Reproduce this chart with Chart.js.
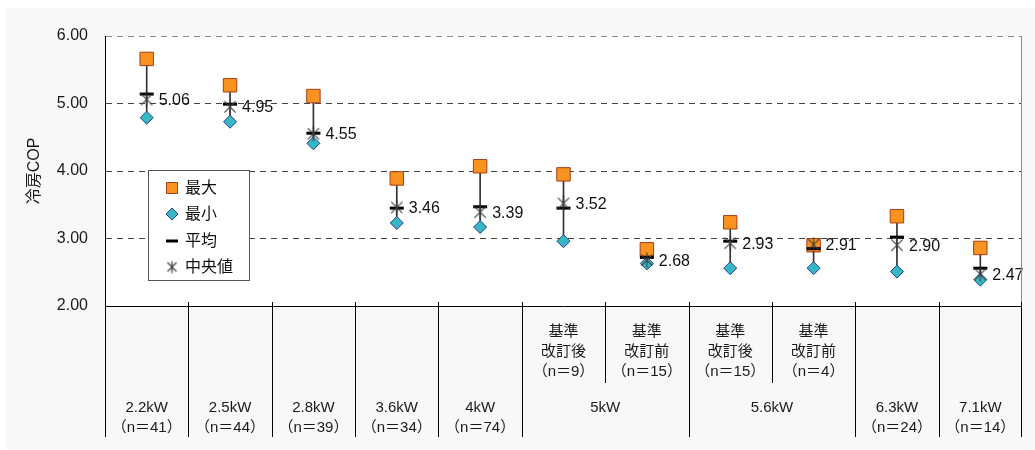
<!DOCTYPE html>
<html>
<head>
<meta charset="utf-8">
<script src="https://cdn.jsdelivr.net/npm/chart.js@4/dist/chart.umd.min.js"></script>
<style>
  html, body { margin: 0; padding: 0; background: #fff; }
  #wrap { width: 1035px; height: 450px; }
</style>
</head>
<body>
<div id="wrap"><canvas id="chart" width="1035" height="450"></canvas></div>
<script>
const FONT = "'Liberation Sans', 'Noto Sans CJK JP', sans-serif";

// data
const categories = ['2.2kW', '2.5kW', '2.8kW', '3.6kW', '4kW', '5kW改訂後', '5kW改訂前', '5.6kW改訂後', '5.6kW改訂前', '6.3kW', '7.1kW'];
const maxValues = [5.66, 5.27, 5.11, 3.89, 4.07, 3.95, 2.84, 3.24, 2.90, 3.33, 2.86];
const minValues = [4.79, 4.73, 4.41, 3.23, 3.17, 2.96, 2.63, 2.56, 2.56, 2.51, 2.39];
const meanValues = [5.14, 4.99, 4.56, 3.45, 3.47, 3.45, 2.72, 2.96, 2.85, 3.02, 2.56];
const medianValues = [5.06, 4.95, 4.55, 3.46, 3.39, 3.52, 2.68, 2.93, 2.91, 2.90, 2.47];

// bottom table labels
const sizeGroups = ['2.2kW', '2.5kW', '2.8kW', '3.6kW', '4kW', '5kW', '5.6kW', '6.3kW', '7.1kW'];
const groupSpans = [1, 1, 1, 1, 1, 2, 2, 1, 1];
const subLabels = ['', '', '', '', '', '基準\n改訂後', '基準\n改訂前', '基準\n改訂後', '基準\n改訂前', '', ''];
const countLabels = ['（n＝41）', '（n＝44）', '（n＝39）', '（n＝34）', '（n＝74）', '（n＝9）', '（n＝15）', '（n＝15）', '（n＝4）', '（n＝24）', '（n＝14）'];
const yTicks = [2, 3, 4, 5, 6];

function makeStar(size, color) {
  const c = document.createElement('canvas');
  c.width = size; c.height = size;
  const g = c.getContext('2d');
  const h = size / 2, r = size / 2 - 0.5, d = r * 0.75;
  g.strokeStyle = color;
  g.lineWidth = 1.2;
  g.beginPath();
  g.moveTo(h - d, h - d); g.lineTo(h + d, h + d);
  g.moveTo(h + d, h - d); g.lineTo(h - d, h + d);
  g.moveTo(h, h - r); g.lineTo(h, h + r);
  g.stroke();
  return c;
}
const starImg = makeStar(16, '#404040');

const backdrop = {
  id: 'backdrop',
  beforeDraw(chart) {
    const {ctx, chartArea: a} = chart;
    ctx.save();
    ctx.fillStyle = '#ffffff';
    ctx.fillRect(0, 0, chart.width, chart.height);
    ctx.fillStyle = '#f8f8f8';
    ctx.fillRect(6, 8, 1029, 441);
    ctx.fillStyle = '#ffffff';
    ctx.fillRect(a.left, a.top, a.right - a.left, a.bottom - a.top);
    ctx.restore();
  }
};

const medianLabels = {
  id: 'medianLabels',
  afterDatasetsDraw(chart) {
    const {ctx} = chart;
    const meta = chart.getDatasetMeta(4);
    ctx.save();
    ctx.font = '16px ' + FONT;
    ctx.fillStyle = '#111';
    ctx.textBaseline = 'middle';
    ctx.textAlign = 'left';
    meta.data.forEach((pt, i) => {
      ctx.fillText(medianValues[i].toFixed(2), pt.x + 12, pt.y + 1);
    });
    ctx.restore();
  }
};

const table = {
  id: 'table',
  afterDraw(chart) {
    const {ctx, chartArea: a} = chart;
    const x = chart.scales.x;
    const half = (x.getPixelForValue(1) - x.getPixelForValue(0)) / 2;
    const edge = i => Math.round(x.getPixelForValue(i) - half) + 0.5;
    ctx.save();
    // right frame
    ctx.strokeStyle = '#8a8a8a';
    ctx.lineWidth = 1;
    ctx.beginPath();
    ctx.moveTo(Math.round(a.right) - 0.5, a.top);
    ctx.lineTo(Math.round(a.right) - 0.5, a.bottom);
    ctx.stroke();
    // axis line
    ctx.strokeStyle = '#000';
    ctx.beginPath();
    ctx.moveTo(a.left, Math.round(a.bottom) + 0.5);
    ctx.lineTo(a.right, Math.round(a.bottom) + 0.5);
    ctx.stroke();

    // group boundaries
    const groupStart = [];
    let k = 0;
    groupSpans.forEach(s => { groupStart.push(k); k += s; });
    const isGroupEdge = i => i === categories.length || groupStart.includes(i);
    ctx.beginPath();
    for (let i = 0; i <= categories.length; i++) {
      const ex = i === categories.length ? Math.round(a.right) - 0.5 : edge(i);
      ctx.moveTo(ex, a.bottom - 4);
      ctx.lineTo(ex, isGroupEdge(i) ? 437 : 383);
    }
    ctx.stroke();

    ctx.fillStyle = '#1a1a1a';
    ctx.textAlign = 'center';
    ctx.textBaseline = 'middle';
    // sub labels inside split groups
    categories.forEach((c, i) => {
      if (!subLabels[i]) return;
      const cx = x.getPixelForValue(i);
      const lines = subLabels[i].split('\n');
      ctx.font = '15px ' + FONT;
      lines.forEach((t, j) => ctx.fillText(t, cx, 332 + j * 20));
      ctx.fillText(countLabels[i], cx, 372);
    });
    // size labels
    groupSpans.forEach((s, g) => {
      const i0 = groupStart[g];
      const cx = (x.getPixelForValue(i0) + x.getPixelForValue(i0 + s - 1)) / 2;
      ctx.font = '15px ' + FONT;
      ctx.fillText(sizeGroups[g], cx, 408);
      if (s === 1) {
        ctx.fillText(countLabels[i0], cx, 428);
      }
    });
    ctx.restore();
  }
};

const legendBox = {
  id: 'legendBox',
  afterDraw(chart) {
    const {ctx} = chart;
    const items = [1, 2, 3, 4];
    ctx.save();
    ctx.fillStyle = '#ffffff';
    ctx.fillRect(148, 170, 101, 110);
    ctx.strokeStyle = '#555';
    ctx.lineWidth = 1;
    ctx.strokeRect(148.5, 170.5, 101, 110);
    ctx.font = '16px ' + FONT;
    ctx.textBaseline = 'middle';
    items.forEach((di, j) => {
      const ds = chart.data.datasets[di];
      const y = Math.round(188 + j * 26.3);
      const mx = 172;
      ctx.fillStyle = ds.backgroundColor;
      ctx.strokeStyle = ds.borderColor;
      ctx.lineWidth = ds.borderWidth;
      ctx.beginPath();
      if (ds.pointStyle === 'rect') {
        ctx.rect(mx - 5.5, y - 5.5, 11, 11);
        ctx.fill(); ctx.stroke();
      } else if (ds.pointStyle === 'rectRot') {
        ctx.moveTo(mx - 6, y); ctx.lineTo(mx, y - 6); ctx.lineTo(mx + 6, y); ctx.lineTo(mx, y + 6);
        ctx.closePath(); ctx.fill(); ctx.stroke();
      } else if (ds.pointStyle === 'line') {
        ctx.moveTo(mx - 6, y); ctx.lineTo(mx + 6, y); ctx.stroke();
      } else {
        ctx.drawImage(makeStar(13, '#404040'), mx - 6.5, y - 6.5);
      }
      ctx.fillStyle = '#111';
      ctx.fillText(ds.label, 185, y + 1);
    });
    ctx.restore();
  }
};

new Chart(document.getElementById('chart'), {
  data: {
    labels: categories,
    datasets: [
      {
        type: 'bar',
        label: '範囲',
        data: categories.map((c, i) => [minValues[i], maxValues[i]]),
        backgroundColor: '#333',
        borderWidth: 0,
        barThickness: 1,
        grouped: false,
        order: 5
      },
      {
        type: 'line',
        label: '最大',
        data: maxValues,
        showLine: false,
        pointStyle: 'rect',
        pointRadius: 9.5,
        backgroundColor: '#f7931e',
        borderColor: '#a83c18',
        borderWidth: 1,
        order: 4
      },
      {
        type: 'line',
        label: '最小',
        data: minValues,
        showLine: false,
        pointStyle: 'rectRot',
        pointRadius: 6.5,
        backgroundColor: '#35b8c2',
        borderColor: '#2b3c97',
        borderWidth: 1,
        order: 3
      },
      {
        type: 'line',
        label: '平均',
        data: meanValues,
        showLine: false,
        pointStyle: 'line',
        pointRadius: 7,
        backgroundColor: '#000',
        borderColor: '#000',
        borderWidth: 3,
        order: 2
      },
      {
        type: 'line',
        label: '中央値',
        data: medianValues,
        showLine: false,
        pointStyle: starImg,
        pointRadius: 7,
        backgroundColor: '#404040',
        borderColor: '#404040',
        borderWidth: 1,
        order: 1
      }
    ]
  },
  options: {
    responsive: false,
    animation: false,
    layout: { padding: { left: 0, top: 36, right: 13, bottom: 144 } },
    plugins: {
      legend: { display: false },
      tooltip: { enabled: false }
    },
    scales: {
      x: { display: false, offset: true },
      y: {
        min: 2,
        max: 6,
        afterFit: s => { s.width = 105; },
        afterBuildTicks: s => { s.ticks = yTicks.map(v => ({value: v})); },
        ticks: {
          padding: 17,
          color: '#1a1a1a',
          font: { family: FONT, size: 16 },
          callback: v => Number(v).toFixed(2)
        },
        grid: {
          drawTicks: false,
          lineWidth: 1,
          color: c => c.tick && c.tick.value === 2 ? 'rgba(0,0,0,0)' : (c.tick && c.tick.value === 6 ? '#8a8a8a' : '#444')
        },
        border: { display: true, color: '#000', width: 1, dash: [6, 5] },
        title: {
          display: true,
          text: '冷房COP',
          color: '#1a1a1a',
          font: { family: FONT, size: 16 },
          padding: { top: 25, bottom: 0 }
        }
      }
    }
  },
  plugins: [backdrop, medianLabels, table, legendBox]
});
</script>
</body>
</html>
